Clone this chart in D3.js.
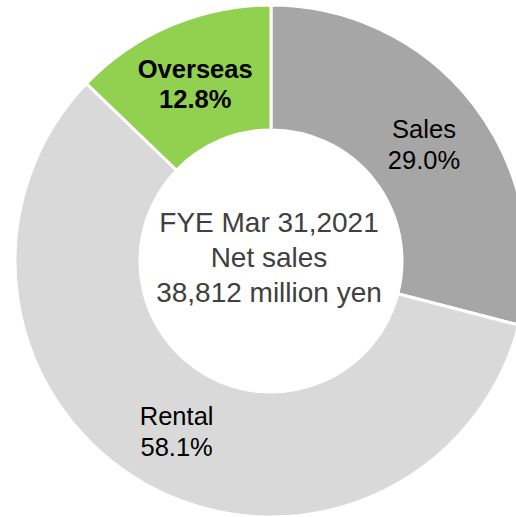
<!DOCTYPE html>
<html>
<head>
<meta charset="utf-8">
<script src="https://cdn.jsdelivr.net/npm/d3@7"></script>
<style>
  html, body { margin: 0; padding: 0; background: #fff; }
  svg { display: block; }
</style>
</head>
<body>
<script>
const categories = ["Sales", "Rental", "Overseas"];
const values = [29.0, 58.1, 12.8];
const labels = ["29.0%", "58.1%", "12.8%"];
const colors = ["#a6a6a6", "#d9d9d9", "#92d050"];
const bold = [false, false, true];
const centerLines = ["FYE Mar 31,2021", "Net sales", "38,812 million yen"];

const W = 516, H = 517;
const cx = 271, cy = 261, rOuter = 256, rInner = 131;

const svg = d3.select("body").append("svg").attr("width", W).attr("height", H);
const g = svg.append("g").attr("transform", `translate(${cx},${cy})`);

const data = categories.map((c, i) => ({ name: c, value: values[i], label: labels[i], color: colors[i], bold: bold[i] }));
const pie = d3.pie().sort(null).value(d => d.value);
const arcs = pie(data);
const arc = d3.arc().innerRadius(rInner).outerRadius(rOuter);

g.selectAll("path.slice").data(arcs).enter().append("path")
  .attr("class", "slice")
  .attr("d", arc)
  .attr("fill", d => d.data.color)
  .attr("stroke", "#fff")
  .attr("stroke-width", 3)
  .attr("stroke-linejoin", "miter");

const lbl = g.selectAll("text.lbl").data(arcs).enter().append("text")
  .attr("class", "lbl")
  .attr("text-anchor", "middle")
  .attr("font-family", "'Liberation Sans', Arial, sans-serif")
  .attr("font-size", "25.5px")
  .attr("font-weight", d => d.data.bold ? "bold" : "normal")
  .attr("fill", "#000")
  .attr("transform", d => { const c = arc.centroid(d); return `translate(${c[0]},${c[1]})`; });
lbl.append("tspan").attr("x", 0).attr("y", -5).text(d => d.data.name);
lbl.append("tspan").attr("x", 0).attr("y", d => d.data.bold ? 25 : 26).text(d => d.data.label);

const ct = g.append("text")
  .attr("text-anchor", "middle")
  .attr("font-family", "'Liberation Sans', Arial, sans-serif")
  .attr("font-size", "28px")
  .attr("fill", "#404040");
const offs = [-29, 6, 41];
centerLines.forEach((t, i) => ct.append("tspan").attr("x", -2).attr("y", offs[i]).text(t));
</script>
</body>
</html>
